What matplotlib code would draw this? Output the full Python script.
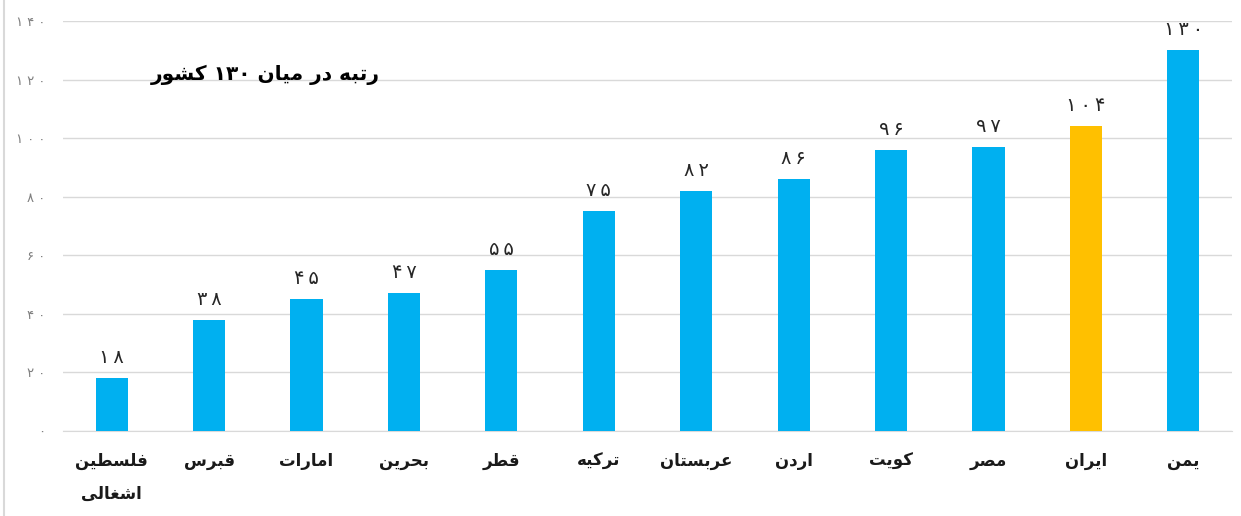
import matplotlib
matplotlib.use("Agg")
import matplotlib.pyplot as plt
from matplotlib.lines import Line2D

# data
countries = ["فلسطین\nاشغالی", "قبرس", "امارات", "بحرین", "قطر", "ترکیه",
             "عربستان", "اردن", "کویت", "مصر", "ایران", "یمن"]
ranks = [18, 38, 45, 47, 55, 75, 82, 86, 96, 97, 104, 130]
highlight = "ایران"
title = "رتبه در میان ۱۳۰ کشور"
yticks = [0, 20, 40, 60, 80, 100, 120, 140]

BLUE = "#00B0F0"
GOLD = "#FFC000"

# presentation forms: isolated, final, initial, medial
FORMS = {
    "ا": ("\uFE8D", "\uFE8E", None, None),
    "ب": ("\uFE8F", "\uFE90", "\uFE91", "\uFE92"),
    "ت": ("\uFE95", "\uFE96", "\uFE97", "\uFE98"),
    "ح": ("\uFEA1", "\uFEA2", "\uFEA3", "\uFEA4"),
    "د": ("\uFEA9", "\uFEAA", None, None),
    "ر": ("\uFEAD", "\uFEAE", None, None),
    "س": ("\uFEB1", "\uFEB2", "\uFEB3", "\uFEB4"),
    "ش": ("\uFEB5", "\uFEB6", "\uFEB7", "\uFEB8"),
    "ص": ("\uFEB9", "\uFEBA", "\uFEBB", "\uFEBC"),
    "ط": ("\uFEC1", "\uFEC2", "\uFEC3", "\uFEC4"),
    "ع": ("\uFEC9", "\uFECA", "\uFECB", "\uFECC"),
    "غ": ("\uFECD", "\uFECE", "\uFECF", "\uFED0"),
    "ف": ("\uFED1", "\uFED2", "\uFED3", "\uFED4"),
    "ق": ("\uFED5", "\uFED6", "\uFED7", "\uFED8"),
    "ل": ("\uFEDD", "\uFEDE", "\uFEDF", "\uFEE0"),
    "م": ("\uFEE1", "\uFEE2", "\uFEE3", "\uFEE4"),
    "ن": ("\uFEE5", "\uFEE6", "\uFEE7", "\uFEE8"),
    "ه": ("\uFEE9", "\uFEEA", "\uFEEB", "\uFEEC"),
    "و": ("\uFEED", "\uFEEE", None, None),
    "ی": ("\uFBFC", "\uFBFD", "\uFBFE", "\uFBFF"),
    "ک": ("\uFB8E", "\uFB8F", "\uFB90", "\uFB91"),
}
FA_DIGITS = "۰۱۲۳۴۵۶۷۸۹"


def fa_num(n, sep="\u2009"):
    return sep.join(FA_DIGITS[int(c)] for c in str(n))


def shape_word(word):
    out = []
    for i, ch in enumerate(word):
        if ch not in FORMS:
            out.append(ch)
            continue
        prev = word[i - 1] if i > 0 else None
        nxt = word[i + 1] if i + 1 < len(word) else None
        joins_prev = prev in FORMS and FORMS[prev][2] is not None
        joins_next = nxt in FORMS and FORMS[ch][2] is not None
        iso, fin, ini, med = FORMS[ch]
        if joins_prev and joins_next:
            out.append(med)
        elif joins_prev:
            out.append(fin)
        elif joins_next:
            out.append(ini)
        else:
            out.append(iso)
    if any(c in FORMS for c in word):
        return "".join(reversed(out))
    return "".join(out)


def rtl(text):
    lines = []
    for line in text.split("\n"):
        words = [shape_word(w) for w in line.split(" ")]
        lines.append(" ".join(reversed(words)))
    return "\n".join(lines)


plt.rcParams['font.family'] = ['DejaVu Sans']

fig = plt.figure(figsize=(12.41, 5.16), dpi=100)
ax = fig.add_axes([63 / 1241, 85 / 516, 1169 / 1241, 410 / 516])

x = list(range(len(countries)))
colors = [GOLD if c == highlight else BLUE for c in countries]
ax.bar(x, ranks, width=0.33, color=colors, zorder=3)

for xi, r in zip(x, ranks):
    ax.annotate(fa_num(r), (xi, r), xytext=(0, 8), textcoords="offset points",
                ha="center", va="bottom", fontsize=14, color="#262626")

ax.set_xlim(-0.5, len(countries) - 0.5)
ax.set_ylim(0, 140)
ax.set_yticks(yticks)
ax.set_yticklabels([fa_num(t, "\u2009\u200a") for t in yticks], fontsize=9.5, color="#7f7f7f")
ax.set_xticks(x)
ax.set_xticklabels([rtl(c) for c in countries], fontsize=12, fontweight="bold",
                   color="#1a1a1a", linespacing=2.1, va="top")
ax.tick_params(axis="both", length=0)
ax.tick_params(axis="x", pad=15)
ax.tick_params(axis="y", pad=13)
ax.grid(axis="y", color="#d9d9d9", linewidth=1, zorder=0)
for s in ["top", "right", "left"]:
    ax.spines[s].set_visible(False)
ax.spines["bottom"].set_color("#d9d9d9")

fig.text(265 / 1241, 1 - 75 / 516, rtl(title), ha="center", va="center",
         fontsize=14.5, fontweight="bold", color="#000000")

fig.add_artist(Line2D([4 / 1241, 4 / 1241], [0, 1], color="#d9d9d9", lw=1.5))

fig.savefig("out.png", dpi=100)
